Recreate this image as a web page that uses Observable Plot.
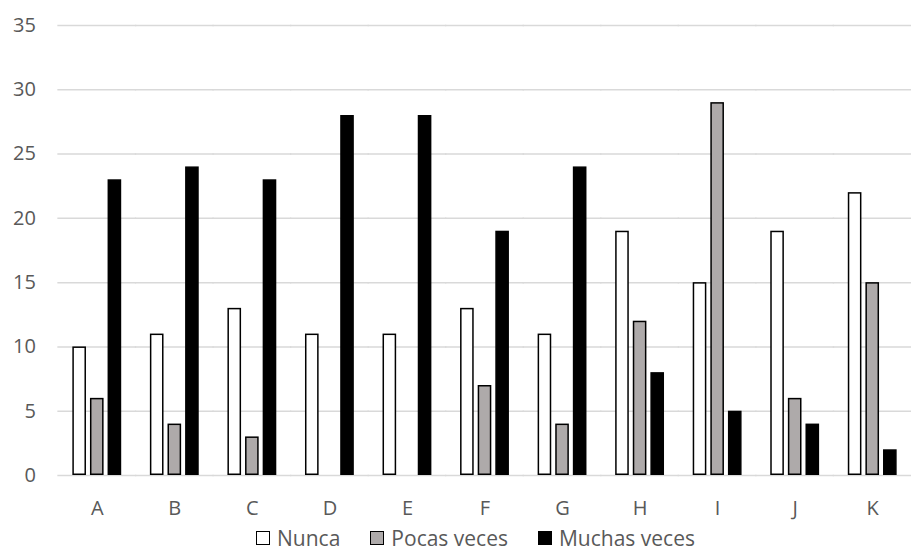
<!DOCTYPE html>
<html>
<head>
<meta charset="utf-8">
<script src="https://cdn.jsdelivr.net/npm/d3@7"></script>
<script src="https://cdn.jsdelivr.net/npm/@observablehq/plot@0.6"></script>
<style>
  html, body { margin: 0; padding: 0; background: #fff; }
  #chart { width: 911px; }
  .legend { display: flex; justify-content: center; align-items: center; gap: 30px; line-height: 22px;
    font-family: "Open Sans", sans-serif; font-size: 21px; color: #595959; margin-top: 7px; padding-left: 40px; }
  .legend .item { display: flex; align-items: center; gap: 7px; }
  .legend .sw { width: 12px; height: 12px; border: 1.5px solid #000; }
</style>
</head>
<body>
<div id="chart"></div>
<script>
const categories = ["A", "B", "C", "D", "E", "F", "G", "H", "I", "J", "K"];
const series = ["Nunca", "Pocas veces", "Muchas veces"];
const nunca  = [10, 11, 13, 11, 11, 13, 11, 19, 15, 19, 22];
const pocas  = [6, 4, 3, 0, 0, 7, 4, 12, 29, 6, 15];
const muchas = [23, 24, 23, 28, 28, 19, 24, 8, 5, 4, 2];
const yTicks = [0, 5, 10, 15, 20, 25, 30, 35];
const colors = ["#ffffff", "#aeaaaa", "#000000"];

const values = [nunca, pocas, muchas];
const data = categories.flatMap((c, i) => series.map((s, j) => ({cat: c, s, v: values[j][i]})));

const plot = Plot.plot({
  width: 911,
  height: 520,
  marginLeft: 58,
  marginRight: 0,
  marginTop: 25,
  marginBottom: 45,
  style: {fontFamily: "'Open Sans', sans-serif", fontSize: "20px", color: "#595959", background: "#fff"},
  fx: {domain: categories, paddingInner: 0.37, paddingOuter: 0.185, round: false, label: null, tickSize: 0, tickPadding: 25, axis: "bottom"},
  x: {domain: series, paddingInner: 0.226, paddingOuter: 0, round: false, axis: null},
  y: {domain: [0, 35], ticks: yTicks, tickSize: 0, tickPadding: 37, label: null, line: false},
  color: {domain: series, range: colors},
  marks: [
    Plot.ruleY(yTicks, {stroke: "#d9d9d9", strokeWidth: 1.5, insetLeft: -15, insetRight: -15}),
    Plot.barY(data.filter(d => d.v > 0), {fx: "cat", x: "s", y: "v", fill: "s", stroke: "#000", strokeWidth: 1.5, inset: 0.75})
  ]
});
document.getElementById("chart").appendChild(plot);

const legend = document.createElement("div");
legend.className = "legend";
series.forEach((s, i) => {
  const item = document.createElement("div");
  item.className = "item";
  const sw = document.createElement("span");
  sw.className = "sw";
  sw.style.background = colors[i];
  const t = document.createElement("span");
  t.textContent = s;
  item.appendChild(sw);
  item.appendChild(t);
  legend.appendChild(item);
});
document.getElementById("chart").appendChild(legend);
</script>
</body>
</html>
